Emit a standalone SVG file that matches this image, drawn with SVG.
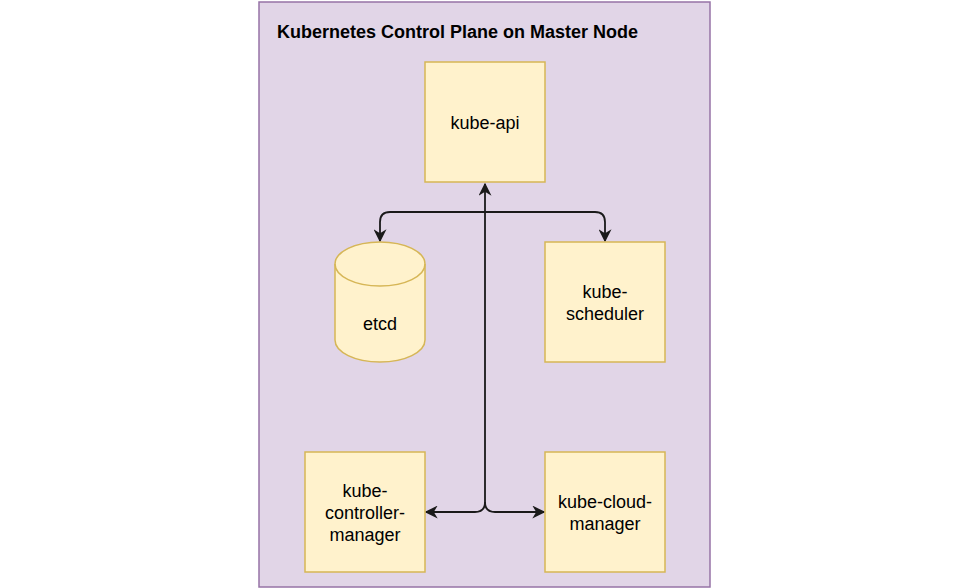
<svg xmlns="http://www.w3.org/2000/svg" width="969" height="588" viewBox="0 0 969 588">
<style>
.box{fill:#fff2cc;stroke:#d6b656;stroke-width:1.5}
.lbl{font-family:"Liberation Sans",Arial,sans-serif;font-size:18px;fill:#000;text-anchor:middle}
.edge{fill:none;stroke:#1a1a1a;stroke-width:1.8}
</style>
<defs>
<marker id="arr" viewBox="0 0 10 10" refX="9" refY="5" markerWidth="13" markerHeight="13" orient="auto-start-reverse" markerUnits="userSpaceOnUse">
<path d="M0,0 L10,5 L0,10 L3,5 z" fill="#1a1a1a"/>
</marker>
</defs>
<rect width="969" height="588" fill="#fff"/>
<g id="container">
<rect x="259" y="2" width="451" height="585" fill="#e1d5e7" stroke="#9673a6" stroke-width="1.5"/>
<text x="277" y="38" font-family="'Liberation Sans',Arial,sans-serif" font-size="18" font-weight="bold" fill="#000">Kubernetes Control Plane on Master Node</text>
</g>
<g id="edges">
<path class="edge" d="M485,212 L485,184" marker-end="url(#arr)"/>
<path class="edge" d="M485,212 L390,212 Q380,212 380,222 L380,241" marker-end="url(#arr)"/>
<path class="edge" d="M485,212 L595,212 Q605,212 605,222 L605,241" marker-end="url(#arr)"/>
<path class="edge" d="M485,212 L485,502 Q485,512 475,512 L426,512" marker-end="url(#arr)"/>
<path class="edge" d="M485,502 Q485,512 495,512 L544,512" marker-end="url(#arr)"/>
</g>
<g id="kube-api">
<rect class="box" x="425" y="62" width="120" height="120"/>
<text class="lbl" x="485" y="129">kube-api</text>
</g>
<g id="etcd">
<path class="box" d="M335,264 A45,22 0 0 1 425,264 L425,340 A45,22 0 0 1 335,340 Z"/>
<path fill="none" stroke="#d6b656" stroke-width="1.5" d="M335,264 A45,22 0 0 0 425,264"/>
<text class="lbl" x="380" y="330">etcd</text>
</g>
<g id="kube-scheduler">
<rect class="box" x="545" y="242" width="120" height="120"/>
<text class="lbl" x="605" y="298">kube-</text>
<text class="lbl" x="605" y="320">scheduler</text>
</g>
<g id="kube-controller-manager">
<rect class="box" x="305" y="452" width="120" height="120"/>
<text class="lbl" x="365" y="497">kube-</text>
<text class="lbl" x="365" y="519">controller-</text>
<text class="lbl" x="365" y="541">manager</text>
</g>
<g id="kube-cloud-manager">
<rect class="box" x="545" y="452" width="120" height="120"/>
<text class="lbl" x="605" y="508">kube-cloud-</text>
<text class="lbl" x="605" y="530">manager</text>
</g>
</svg>
